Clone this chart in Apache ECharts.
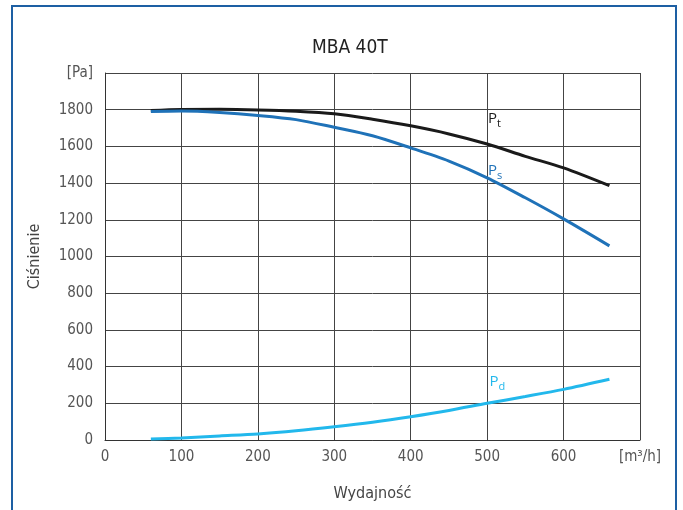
<!DOCTYPE html>
<html>
<head>
<meta charset="utf-8">
<script src="https://cdn.jsdelivr.net/npm/echarts@6/dist/echarts.min.js"></script>
<style>html,body{margin:0;padding:0;background:#fff}#c{width:683px;height:510px}</style>
</head>
<body>
<div id="c"></div>
<script>
var flow = [60, 100, 150, 200, 250, 300, 350, 400, 450, 500, 550, 600, 660];
var pt = [1795, 1801, 1802, 1799, 1792, 1778, 1748, 1712, 1668, 1613, 1546, 1483, 1386];
var ps = [1790, 1793, 1785, 1769, 1746, 1704, 1658, 1592, 1520, 1429, 1320, 1205, 1058];
var pd = [5, 11, 22, 33, 50, 72, 97, 127, 161, 200, 237, 276, 331];
var xTicksMax = 700, yTicksMax = 2000;
var xUnit = '[m³/h]', yUnit = '[Pa]';
var labels = [
  {name: 'P', sub: 't', x: 501, y: 1744, color: '#1a1a1a'},
  {name: 'P', sub: 's', x: 501, y: 1460, color: '#1f72b8'},
  {name: 'P', sub: 'd', x: 503, y: 308, color: '#22b8ec'}
];
var FONT = "'Liberation Sans Narrow', 'DejaVu Sans Condensed', Roboto, sans-serif";
function zip(xs, ys){ return xs.map(function(x,i){ return [x, ys[i]]; }); }
function mk(lbl){
  return {
    symbol: 'circle', symbolSize: 0,
    data: [{coord: [lbl.x, lbl.y]}],
    label: {
      show: true, position: 'right', distance: 0,
      formatter: '{a|' + lbl.name + '}{b|' + lbl.sub + '}',
      rich: {
        a: {fontFamily: "'Open Sans', sans-serif", fontSize: 15, color: lbl.color, lineHeight: 18, verticalAlign: 'top'},
        b: {fontFamily: "'Open Sans', sans-serif", fontSize: 11, color: lbl.color, lineHeight: 18, verticalAlign: 'bottom', padding: [8,0,0,0]}
      }
    }
  };
}
var colors = ['#1a1a1a', '#1f72b8', '#22b8ec'];
function line(ys, i){
  return {type: 'line', data: zip(flow, ys), smooth: 0.3, showSymbol: false,
    lineStyle: {color: colors[i], width: 3}, markPoint: mk(labels[i])};
}
var chart = echarts.init(document.getElementById('c'));
chart.setOption({
  animation: false,
  title: {text: 'MBA 40T', left: 307, top: 34, textStyle: {fontFamily: FONT, fontSize: 19, fontWeight: 'normal', color: '#222'}},
  graphic: [{type: 'rect', shape: {x: 12, y: 6, width: 664, height: 530}, style: {fill: 'none', stroke: '#1d5fa3', lineWidth: 2}, silent: true}],
  grid: {left: 105, right: 43, top: 73, bottom: 70},
  xAxis: {
    type: 'value', min: 0, max: xTicksMax, interval: 100,
    name: 'Wydajność', nameLocation: 'middle', nameGap: 46,
    nameTextStyle: {fontFamily: FONT, fontSize: 16, color: '#444'},
    axisLine: {lineStyle: {color: '#333', width: 1}},
    axisTick: {show: false},
    axisLabel: {fontFamily: FONT, fontSize: 15, color: '#555', margin: 10,
      formatter: function(v){ return v === xTicksMax ? xUnit : v; }},
    splitLine: {lineStyle: {color: '#444', width: 1}}
  },
  yAxis: {
    type: 'value', min: 0, max: yTicksMax, interval: 200,
    name: 'Ciśnienie', nameLocation: 'middle', nameGap: 62, nameRotate: 90,
    nameTextStyle: {fontFamily: FONT, fontSize: 16, color: '#444'},
    axisLine: {show: true, lineStyle: {color: '#333', width: 1}},
    axisTick: {show: false},
    axisLabel: {fontFamily: FONT, fontSize: 15, color: '#555', margin: 12,
      formatter: function(v){ return v === yTicksMax ? yUnit : v; }},
    splitLine: {lineStyle: {color: '#444', width: 1}}
  },
  series: [line(pt, 0), line(ps, 1), line(pd, 2)]
});
</script>
</body>
</html>
